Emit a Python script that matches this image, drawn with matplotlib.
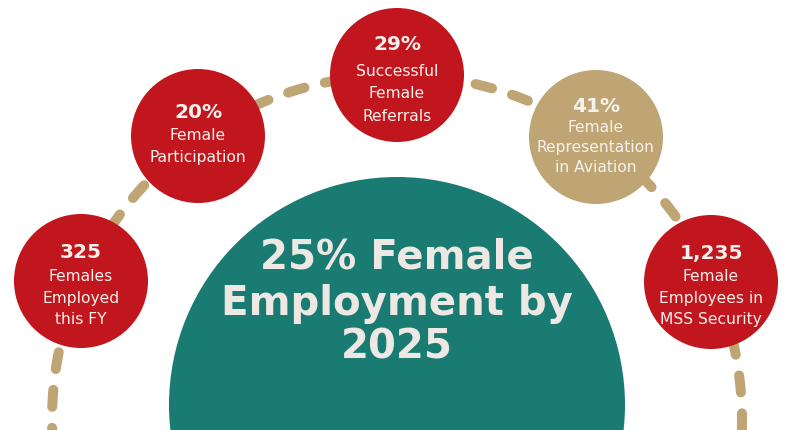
"""Female employment infographic: stat bubbles on a dashed arc."""

import matplotlib

matplotlib.use("Agg")
import matplotlib.pyplot as plt
import numpy as np
from matplotlib.patches import Circle

# data
stat_values = ["325", "20%", "29%", "41%", "1,235"]
stat_labels = [
    ["Females", "Employed", "this FY"],
    ["Female", "Participation"],
    ["Successful", "Female", "Referrals"],
    ["Female", "Representation", "in Aviation"],
    ["Female", "Employees in", "MSS Security"],
]
headline = ["25% Female", "Employment by", "2025"]

# layout (pixel space, y down)
W, H = 785, 430
bubble_xy = [(81, 281), (198, 136), (397, 75), (596, 137), (711, 282)]
bubble_r = 67
value_y = [250, 111, 43, 105, 251]
first_gap = [25, 23, 27, 21, 24]
line_gap = [21.5, 22, 22.5, 20, 21.5]
bubble_colors = ["#C1161D", "#C1161D", "#C1161D", "#BFA574", "#C1161D"]
arc_center = (397, 420)
arc_r = 345
big_center = (397, 405)
big_r = 228
headline_y = [253, 299, 343]

TAN = "#BFA574"
TEAL = "#1A7B72"
TXT = "#F6F1EC"

plt.rcParams["font.family"] = ["DejaVu Sans"]

fig = plt.figure(figsize=(W / 100, H / 100), dpi=100)
ax = fig.add_axes([0, 0, 1, 1])
ax.set_xlim(0, W)
ax.set_ylim(H, 0)
ax.set_aspect("equal")
ax.axis("off")

# dashed arc behind everything
t = np.linspace(-0.03, np.pi + 0.03, 400)
ax.plot(arc_center[0] + arc_r * np.cos(t), arc_center[1] - arc_r * np.sin(t),
        color=TAN, lw=7.2, dashes=(1.7, 2.1), dash_capstyle="round", zorder=1)

# big teal half-circle
ax.add_patch(Circle(big_center, big_r, color=TEAL, zorder=2, lw=0))
for line, ly in zip(headline, headline_y):
    ax.text(big_center[0], ly, line, ha="center", va="center_baseline",
            color="#EDE8E3", fontsize=29, fontweight="bold", zorder=3)

# stat bubbles
for (x, y), val, lab, col, vy, g0, gap in zip(bubble_xy, stat_values, stat_labels,
                                               bubble_colors, value_y, first_gap, line_gap):
    ax.add_patch(Circle((x, y), bubble_r, color=col, zorder=2, lw=0))
    ax.text(x, vy, val, ha="center", va="center_baseline", color=TXT,
            fontsize=14.5, fontweight="bold", zorder=3)
    for k, line in enumerate(lab):
        ax.text(x, vy + g0 + k * gap, line, ha="center", va="center_baseline",
                color=TXT, fontsize=11.2, zorder=3)

fig.savefig("out.png", dpi=100)
